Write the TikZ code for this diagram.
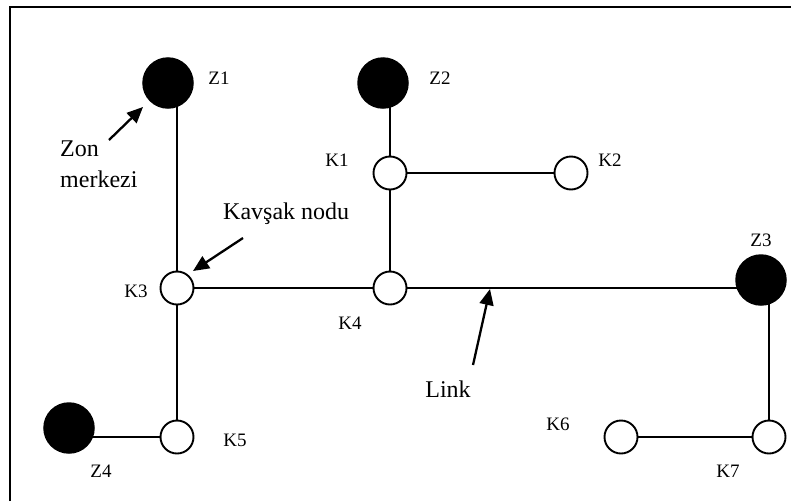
\documentclass[tikz,border=0pt]{standalone}
\usepackage{fontspec}
\setmainfont{Liberation Serif}
\usetikzlibrary{arrows.meta,backgrounds}

\begin{document}
\begin{tikzpicture}[x=1pt,y=-1pt,
  zone/.style={circle,fill=black,draw=black,line width=1.5pt,minimum size=50pt,inner sep=0pt},
  junction/.style={circle,fill=white,draw=black,line width=1.9pt,minimum size=33pt,inner sep=0pt},
  lbl/.style={inner sep=0pt,font=\fontsize{19}{21}\selectfont},
  note/.style={inner sep=0pt,font=\fontsize{24}{31}\selectfont},
  link/.style={line width=1.8pt},
  pointer/.style={line width=2.3pt,-{Triangle[length=16pt,width=14pt]}}]

\useasboundingbox (0,0) rectangle (791,501);

% frame (top and left edges)
\draw[line width=1.6pt] (10,501) -- (10,7) -- (791,7);

% zone centres
\node[zone] (Z1) at (168,83) {};
\node[zone] (Z2) at (383,83) {};
\node[zone] (Z3) at (761,280) {};
\node[zone] (Z4) at (69,428) {};

% junction nodes
\node[junction] (K1) at (390,173) {};
\node[junction] (K2) at (571,173) {};
\node[junction] (K3) at (177,288) {};
\node[junction] (K4) at (390,288) {};
\node[junction] (K5) at (177,437) {};
\node[junction] (K6) at (621,437) {};
\node[junction] (K7) at (769,437) {};

% links
\begin{scope}[on background layer]
  \draw[link] (K3) -- (K3 |- Z1);
  \draw[link] (K1) -- (K1 |- Z2);
  \draw[link] (K1) -- (K2);
  \draw[link] (K1) -- (K4);
  \draw[link] (K3) -- (K4);
  \draw[link] (K4) -- (K4 -| Z3);
  \draw[link] (K7) -- (K7 |- Z3);
  \draw[link] (K3) -- (K5);
  \draw[link] (K5) -- (K5 -| Z4);
  \draw[link] (K6) -- (K7);
\end{scope}

% node labels
\node[lbl] (tZ1) at (219,78) {Z1};
\node[lbl] (tZ2) at (440,78) {Z2};
\node[lbl] (tZ3) at (761,240) {Z3};
\node[lbl] (tZ4) at (101,471) {Z4};
\node[lbl] (tK1) at (337,160) {K1};
\node[lbl] (tK2) at (610,160) {K2};
\node[lbl] (tK3) at (136,291) {K3};
\node[lbl] (tK4) at (350,323) {K4};
\node[lbl] (tK5) at (235,440) {K5};
\node[lbl] (tK6) at (558,424) {K6};
\node[lbl] (tK7) at (728,471) {K7};

% annotations
\node[note,align=left,anchor=base west] (zonText) at (60,187) {Zon\\merkezi};
\node[note,anchor=base west] (kavText) at (223,219) {Kavşak nodu};
\node[note,anchor=base] (linkText) at (448,397) {Link};

\coordinate (zonTail) at (109,140);
\coordinate (zonTip) at (143,107);
\coordinate (kavTail) at (243,238);
\coordinate (kavTip) at (193,271);
\coordinate (linkTail) at (473,365);
\coordinate (linkTip) at (490,289);

\draw[pointer] (zonTail) -- (zonTip);
\draw[pointer] (kavTail) -- (kavTip);
\draw[pointer] (linkTail) -- (linkTip);
\end{tikzpicture}
\end{document}
